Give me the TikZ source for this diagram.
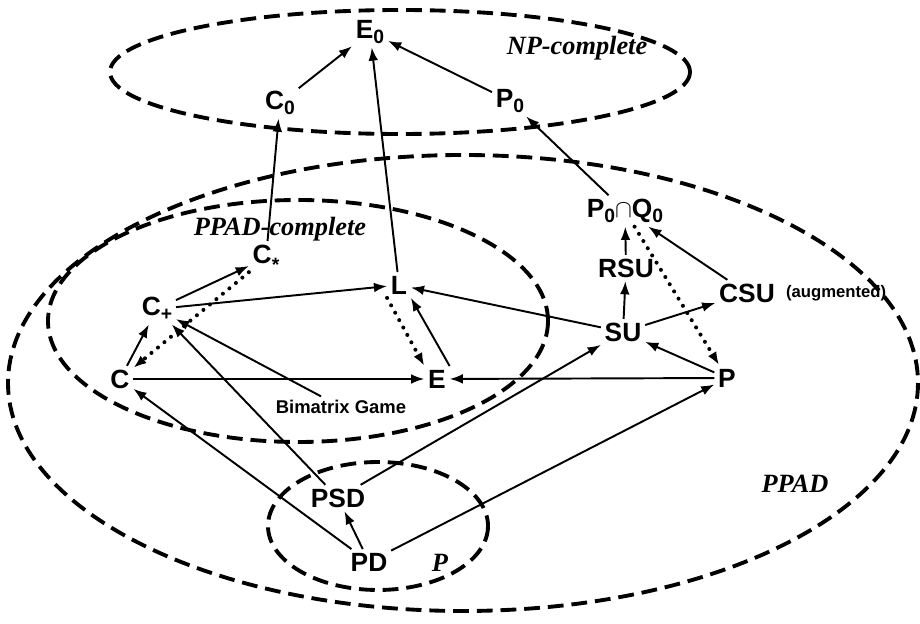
\documentclass[tikz,border=0pt]{standalone}
\usepackage{fontspec}
\setmainfont{Liberation Sans}
\newfontfamily\tagfont{Liberation Serif}
\usetikzlibrary{arrows.meta}
\newcommand\low[2][-0.35ex]{\raisebox{#1}{\fontsize{11}{11}\selectfont #2}}

\begin{document}
\begin{tikzpicture}[x=0.02cm, y=-0.02cm,
    every node/.style={font=\fontsize{15}{17}\selectfont\bfseries, inner sep=2pt},
    class/.style={line width=2.2pt, dash pattern=on 9pt off 4.5pt},
    reduce/.style={-{Latex[length=7.5pt,width=5.5pt]}, line width=1.1pt},
    weak/.style={reduce, line cap=round, dash pattern=on 0pt off 4.8pt, line width=2.3pt},
    tag/.style={font=\fontsize{15}{17}\selectfont\tagfont\bfseries\itshape},
    small/.style={font=\fontsize{10.5}{12}\selectfont\bfseries}]
    \useasboundingbox (0,0) rectangle (920,624);
    % classes
    \draw[class] (400,72) ellipse [x radius=290, y radius=62];
    \draw[class] (463,383) ellipse [x radius=455, y radius=228];
    \draw[class] (298,321) ellipse [x radius=250, y radius=121];
    \draw[class] (378,526) ellipse [x radius=110, y radius=64];
    \node[tag] (npc)  at (577,48)  {NP-complete};
    \node[tag] (ppc)  at (280,229) {PPAD-complete};
    \node[tag] (ppad) at (795,484) {PPAD};
    \node[tag] (poly) at (440,563) {P};
    % problems
    \node (E0)   at (370,32)  {E\low{0}};
    \node (C0)   at (280,103) {C\low{0}};
    \node (P0)   at (510,101) {P\low{0}};
    \node (PQ)   at (625,211) {P\low{0}$\cap$Q\low{0}};
    \node (Cs)   at (266,258) {C\low[-0.55ex]{*}};
    \node (L)    at (399,285) {L};
    \node (RSU)  at (626,268) {RSU};
    \node (CSU)  at (747,293) {CSU};
    \node[font=\fontsize{9.5}{11}\selectfont\bfseries, anchor=west] (aug) at ([xshift=2pt]CSU.east) {(augmented)};
    \node (Cp)   at (157,309) {C\low{+}};
    \node (SU)   at (623,332) {SU};
    \node (C)    at (120,379) {C};
    \node (E)    at (437,379) {E};
    \node (P)    at (727,378) {P};
    \node[small] (bim) at (341,407) {Bimatrix Game};
    \node (PSD)  at (338,498) {PSD};
    \node (PD)   at (369,562) {PD};
    % reductions
    \draw[reduce] (C0) -- (E0);
    \draw[reduce] (P0) -- (E0);
    \draw[reduce] (L) -- (E0);
    \draw[reduce] (Cs) -- (C0);
    \draw[reduce] (PQ) -- (P0);
    \draw[reduce] (RSU) -- (PQ);
    \draw[reduce] (SU) -- (RSU);
    \draw[reduce] (CSU) -- (PQ);
    \draw[reduce] (SU) -- (CSU);
    \draw[weak] (PQ) -- (P);
    \draw[reduce] (P) -- (SU);
    \draw[reduce] (P) -- (E);
    \draw[reduce] (SU) -- (L);
    \draw[reduce] (E.north east) -- (L.south east);
    \draw[weak] (L.south west) -- (E.north west);
    \draw[reduce] (Cp) -- (L);
    \draw[reduce] (Cp) -- (Cs);
    \draw[weak] (Cs) -- (C);
    \draw[reduce] (C) -- (Cp);
    \draw[reduce] (C) -- (E);
    \draw[reduce] (bim) -- (Cp);
    \draw[reduce] (PSD) -- (Cp);
    \draw[reduce] (PSD) -- (SU);
    \draw[reduce] (PD) -- (PSD);
    \draw[reduce] (PD) -- (C);
    \draw[reduce] (PD) -- (P);
\end{tikzpicture}
\end{document}
